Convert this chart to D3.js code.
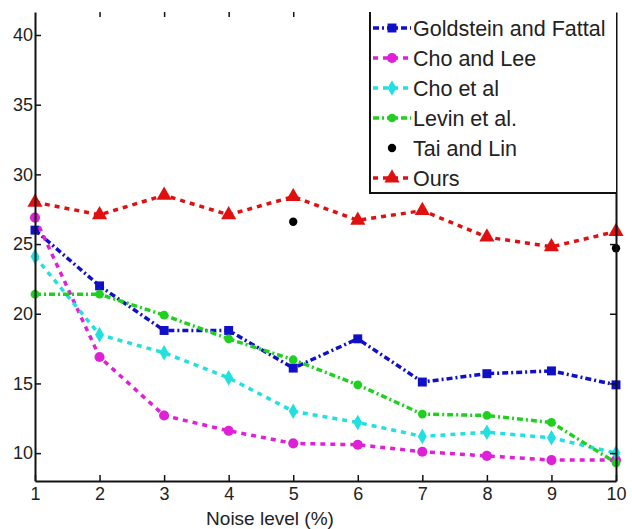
<!DOCTYPE html>
<html>
<head>
<meta charset="utf-8">
<script src="https://cdn.jsdelivr.net/npm/d3@7"></script>
<style>
  body { margin: 0; background: #fff; }
  svg { font-family: "Liberation Sans", Arial, sans-serif; }
</style>
</head>
<body>
<svg id="chart" width="632" height="529"></svg>
<script>
// noise levels on the x axis
const noise = [1, 2, 3, 4, 5, 6, 7, 8, 9, 10];

const goldstein = [26.0, 22.0, 18.8, 18.8, 16.1, 18.2, 15.1, 15.7, 15.9, 14.9];
const choLee    = [26.9, 16.9, 12.7, 11.6, 10.7, 10.6, 10.1, 9.8, 9.5, 9.5];
const choEtAl   = [24.1, 18.5, 17.2, 15.4, 13.0, 12.2, 11.2, 11.5, 11.1, 10.0];
const levin     = [21.4, 21.4, 19.9, 18.2, 16.7, 14.9, 12.8, 12.7, 12.2, 9.3];
const ours      = [28.0, 27.1, 28.5, 27.1, 28.4, 26.7, 27.4, 25.5, 24.8, 25.9];
// Tai and Lin only reported at two noise levels
const taiLinX = [5, 10];
const taiLin  = [26.6, 24.7];

const yTicks = [10, 15, 20, 25, 30, 35, 40];

const series = [
  { name: "Goldstein and Fattal", values: goldstein, color: "#1010c8", dash: "6,3,2,3", symbol: d3.symbolSquare, size: 80 },
  { name: "Cho and Lee", values: choLee, color: "#e020d8", dash: "5,5", symbol: d3.symbolCircle, size: 80 },
  { name: "Cho et al", values: choEtAl, color: "#20e0e0", dash: "5,5", symbol: d3.symbolDiamond, size: 70 },
  { name: "Levin et al.", values: levin, color: "#20d020", dash: "6,3,2,3", symbol: d3.symbolCircle, size: 60 },
  { name: "Tai and Lin", values: null, color: "#000", dash: null, symbol: d3.symbolCircle, size: 55 },
  { name: "Ours", values: ours, color: "#e01010", dash: "5,5", symbol: d3.symbolTriangle, size: 100 }
];

const svg = d3.select("#chart");
const margin = { top: 12, right: 16, bottom: 48, left: 35 };
const W = 632, H = 529;

const x = d3.scaleLinear().domain([1, 10]).range([margin.left, W - margin.right]);
const y = d3.scaleLinear().domain([8, 41.65]).range([H - margin.bottom, margin.top]);

// lines
const line = d3.line().x((d, i) => x(noise[i])).y(d => y(d));

series.forEach(s => {
  if (!s.values) return;
  svg.append("path")
    .attr("d", line(s.values))
    .attr("fill", "none")
    .attr("stroke", s.color)
    .attr("stroke-width", 3.5)
    .attr("stroke-dasharray", s.dash);
  svg.selectAll(null)
    .data(s.values)
    .enter().append("path")
    .attr("d", d3.symbol().type(s.symbol).size(s.size))
    .attr("transform", (d, i) => "translate(" + x(noise[i]) + "," + y(d) + ")")
    .attr("fill", s.color);
});

svg.selectAll(".tai")
  .data(taiLin)
  .enter().append("path")
  .attr("class", "tai")
  .attr("d", d3.symbol().type(d3.symbolCircle).size(55))
  .attr("transform", (d, i) => "translate(" + x(taiLinX[i]) + "," + y(d) + ")")
  .attr("fill", "#000");

// axes (matlab style, ticks inside)
const bottom = svg.append("g")
  .attr("transform", "translate(0," + (H - margin.bottom) + ")")
  .call(d3.axisBottom(x).tickValues(noise).tickSizeInner(-6).tickSizeOuter(0).tickPadding(6));
const left = svg.append("g")
  .attr("transform", "translate(" + margin.left + ",0)")
  .call(d3.axisLeft(y).tickValues(yTicks).tickSizeInner(-6).tickSizeOuter(0).tickPadding(2));

svg.append("g")
  .attr("transform", "translate(" + (W - margin.right) + ",0)")
  .call(d3.axisRight(y).tickValues(yTicks).tickSizeInner(-6).tickSizeOuter(0).tickFormat(""));
svg.append("g")
  .attr("transform", "translate(0," + margin.top + ")")
  .call(d3.axisTop(x).tickValues([2, 3, 4, 5]).tickSizeInner(-5).tickSizeOuter(0).tickFormat(""))
  .select(".domain").remove();

svg.selectAll(".domain").attr("stroke", "#111").attr("stroke-width", 2);
svg.selectAll(".tick line").attr("stroke", "#111").attr("stroke-width", 1.5);
bottom.selectAll("text").attr("font-size", 18).attr("fill", "#222");
left.selectAll("text").attr("font-size", 18).attr("fill", "#222");

svg.append("text")
  .attr("x", 270)
  .attr("y", 525)
  .attr("text-anchor", "middle")
  .attr("font-size", 19)
  .attr("fill", "#222")
  .text("Noise level (%)");

// legend
const lx = 370, ly = margin.top, lw = W - margin.right - lx, lh = 193 - margin.top;
const legend = svg.append("g");
legend.append("rect")
  .attr("x", lx).attr("y", ly).attr("width", lw).attr("height", lh)
  .attr("fill", "#fff");
legend.append("path")
  .attr("d", "M" + lx + "," + ly + "V" + (ly + lh) + "H" + (lx + lw))
  .attr("fill", "none").attr("stroke", "#111").attr("stroke-width", 2);

series.forEach((s, i) => {
  const cy = 28 + i * 30;
  const row = legend.append("g");
  if (s.values) {
    row.append("line")
      .attr("x1", lx + 3).attr("x2", lx + 41)
      .attr("y1", cy).attr("y2", cy)
      .attr("stroke", s.color).attr("stroke-width", 3.5)
      .attr("stroke-dasharray", s.dash);
  }
  row.append("path")
    .attr("d", d3.symbol().type(s.symbol).size(s.size))
    .attr("transform", "translate(" + (lx + 22) + "," + cy + ")")
    .attr("fill", s.color);
  row.append("text")
    .attr("x", lx + 43)
    .attr("y", cy)
    .attr("dy", "0.35em")
    .attr("font-size", 21.5)
    .attr("fill", "#222")
    .text(s.name);
});
</script>
</body>
</html>
